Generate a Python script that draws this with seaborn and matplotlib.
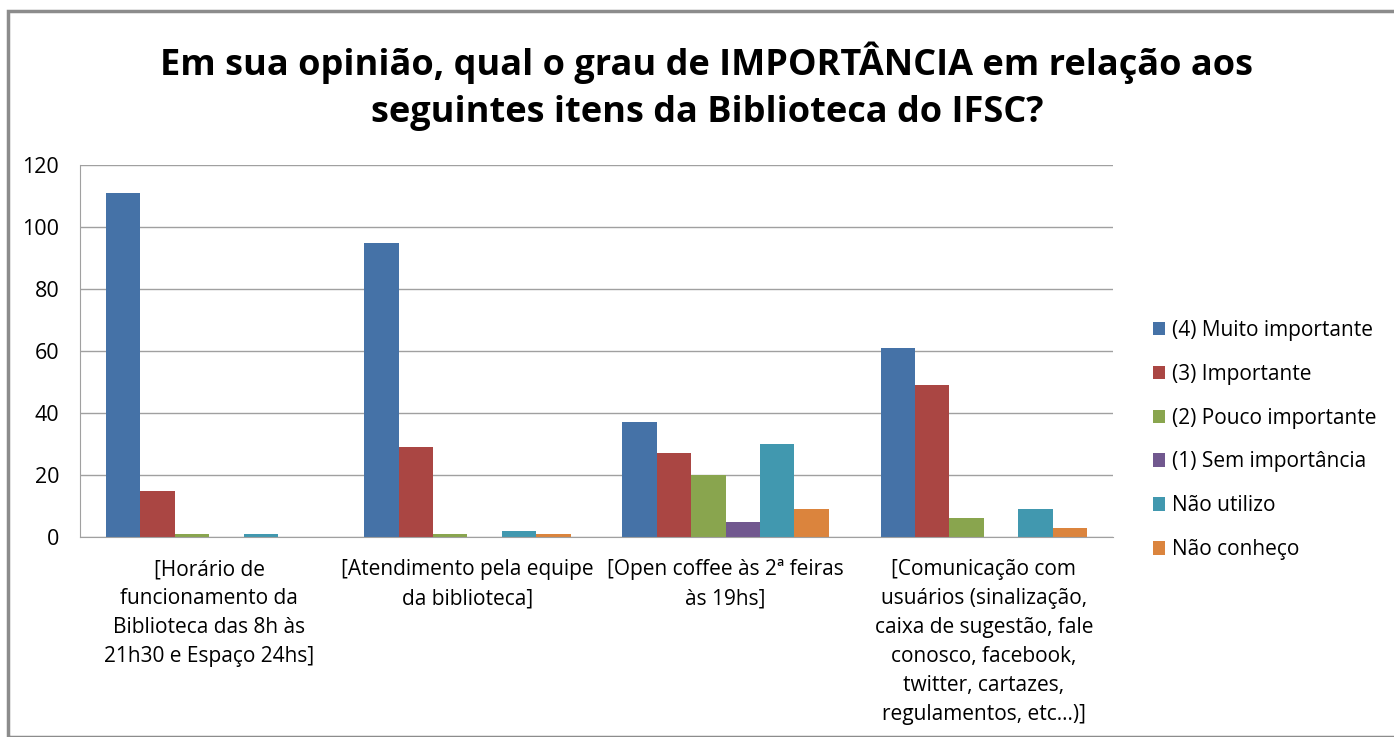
import matplotlib
matplotlib.use("Agg")
import matplotlib.pyplot as plt
import seaborn as sns
import pandas as pd
from matplotlib.patches import Rectangle

categories = [
    "[Horário de\nfuncionamento da\nBiblioteca das 8h às\n21h30 e Espaço 24hs]",
    "[Atendimento pela equipe\nda biblioteca]",
    "[Open coffee às 2ª feiras\nàs 19hs]",
    "[Comunicação com\nusuários (sinalização,\ncaixa de sugestão, fale\nconosco, facebook,\ntwitter, cartazes,\nregulamentos, etc...)]",
]
levels = ["(4) Muito importante", "(3) Importante", "(2) Pouco importante",
          "(1) Sem importância", "Não utilizo", "Não conheço"]
muito_importante = [111, 95, 37, 61]
importante = [15, 29, 27, 49]
pouco_importante = [1, 1, 20, 6]
sem_importancia = [0, 0, 5, 0]
nao_utilizo = [1, 2, 30, 9]
nao_conheco = [0, 1, 9, 3]
series = [muito_importante, importante, pouco_importante, sem_importancia, nao_utilizo, nao_conheco]
colors = ["#4572A7", "#AA4643", "#89A54E", "#71588F", "#4198AF", "#DB843D"]

rows = []
for lvl, vals in zip(levels, series):
    for cat, v in zip(categories, vals):
        rows.append({"cat": cat, "nivel": lvl, "valor": v})
df = pd.DataFrame(rows)

sns.set_style("white")
plt.rcParams["font.family"] = ["Open Sans", "DejaVu Sans"]
plt.rcParams["text.color"] = "black"

fig = plt.figure(figsize=(13.94, 7.37), dpi=100)
ax = fig.add_axes([80/1394, 1 - 537/737, (1113-80)/1394, (537-165)/737])

sns.barplot(data=df, x="cat", y="valor", hue="nivel", hue_order=levels,
            order=categories, palette=colors, width=0.8, saturation=1,
            ax=ax, linewidth=0)

ax.set_ylim(0, 120)
ax.set_yticks(range(0, 121, 20))
ax.yaxis.grid(True, color="#A0A0A0", linewidth=1)
ax.set_axisbelow(True)
ax.set_xlabel("")
ax.set_ylabel("")
for s in ["top", "right"]:
    ax.spines[s].set_visible(False)
ax.spines["left"].set_color("#A0A0A0")
ax.spines["bottom"].set_color("#A0A0A0")
ax.tick_params(axis="y", labelsize=15.5, length=0, pad=15, labelcolor="black")
ax.tick_params(axis="x", labelsize=15, length=0, pad=16, labelcolor="black")
for lab in ax.get_xticklabels():
    lab.set_linespacing(1.5)

leg = ax.legend(loc="center left", bbox_to_anchor=(1134/1394, 1 - 440/737),
                bbox_transform=fig.transFigure, frameon=False, fontsize=15,
                handlelength=0.6, handleheight=0.6, handletextpad=0.3,
                labelspacing=1.1)
for t in leg.get_texts():
    t.set_color("black")

fig.text(0.507, 1 - 86/737,
         "Em sua opinião, qual o grau de IMPORTÂNCIA em relação aos\nseguintes itens da Biblioteca do IFSC?",
         ha="center", va="center", fontsize=26, fontweight="bold",
         linespacing=1.42, color="black")

fig.patches.append(Rectangle((8/1394, 0), 1.2, 1 - 11/737, transform=fig.transFigure,
                             fill=False, edgecolor="#8C8C8C", linewidth=2.5))

fig.savefig("out.png", dpi=100, facecolor="white")
